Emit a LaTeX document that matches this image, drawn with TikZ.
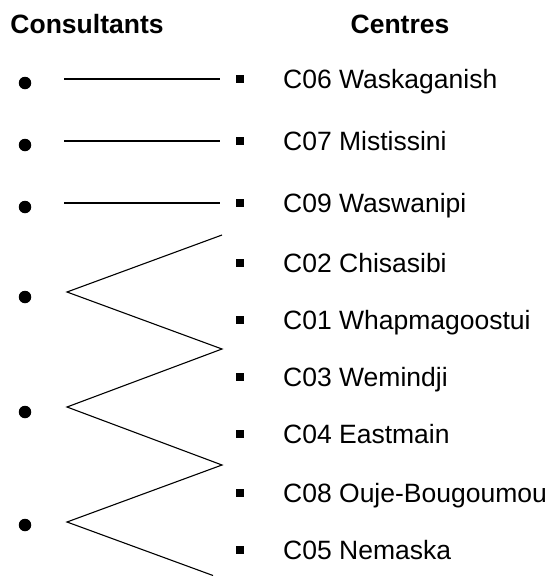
\documentclass[tikz,border=0pt]{standalone}
\usepackage{fontspec}
\setmainfont{Liberation Sans}
\usetikzlibrary{positioning}

\begin{document}
\begin{tikzpicture}[x=1pt, y=-1pt,
  font=\fontsize{26.5}{30}\selectfont,
  head/.style={font=\fontsize{26.5}{30}\selectfont\bfseries, anchor=base, inner sep=0pt},
  centre/.style={anchor=base west, inner sep=0pt},
  cdot/.style={circle, fill=black, inner sep=0pt, minimum size=12.5pt},
  sq/.style={rectangle, fill=black, inner sep=0pt, minimum size=8pt},
  link/.style={line width=2.4pt, shorten <=33pt, shorten >=16pt},
  zig/.style={line width=1.1pt}]
\useasboundingbox (0,0) rectangle (551,576);
\node[head] (hc) at (87,33) {Consultants};
\node[head] (hz) at (400,33) {Centres};
% consultants
\node[cdot] (k1) at (25,83) {};
\node[cdot] (k2) at (25,145) {};
\node[cdot] (k3) at (25,207) {};
\node[cdot] (k4) at (25,297) {};
\node[cdot] (k5) at (25,412) {};
\node[cdot] (k6) at (25,525) {};
% centres
\node[sq] (s1) at (240,79) {};
\node[sq] (s2) at (240,141) {};
\node[sq] (s3) at (240,203) {};
\node[sq] (s4) at (240,263) {};
\node[sq] (s5) at (240,320) {};
\node[sq] (s6) at (240,377) {};
\node[sq] (s7) at (240,434) {};
\node[sq] (s8) at (240,493) {};
\node[sq] (s9) at (240,550) {};
\node[centre] (c06) at (283,88.5) {C06 Waskaganish};
\node[centre] (c07) at (283,150.5) {C07 Mistissini};
\node[centre] (c09) at (283,212.5) {C09 Waswanipi};
\node[centre] (c02) at (283,272.5) {C02 Chisasibi};
\node[centre] (c01) at (283,329.5) {C01 Whapmagoostui};
\node[centre] (c03) at (283,386.5) {C03 Wemindji};
\node[centre] (c04) at (283,443.5) {C04 Eastmain};
\node[centre] (c08) at (283,502.5) {C08 Ouje-Bougoumou};
\node[centre] (c05) at (283,559.5) {C05 Nemaska};
% one-to-one links
\draw[link] (k1.east |- s1.west) -- (s1.west);
\draw[link] (k2.east |- s2.west) -- (s2.west);
\draw[link] (k3.east |- s3.west) -- (s3.west);
% shared centres
\coordinate (z0) at (222,235);
\coordinate (z1) at (67,292);
\coordinate (z2) at (222,349);
\coordinate (z3) at (67,407);
\coordinate (z4) at (222,465);
\coordinate (z5) at (67,522);
\coordinate (z6) at (213,575.5);
\draw[zig] (z0) -- (z1) -- (z2) -- (z3) -- (z4) -- (z5) -- (z6);
\end{tikzpicture}
\end{document}
